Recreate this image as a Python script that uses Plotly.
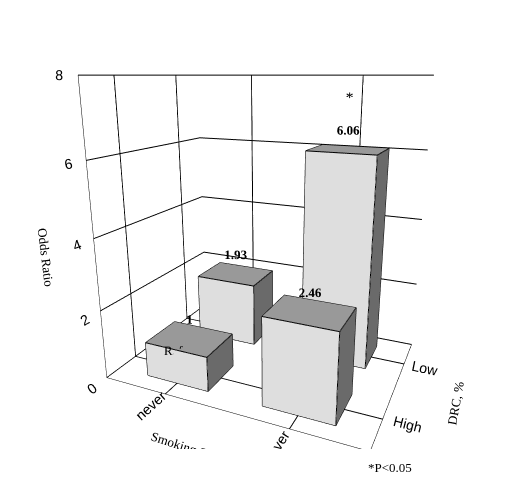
import plotly.graph_objects as go

smoking = ['never', 'ever']
drc = ['High', 'Low']
# odds ratios [smoking][drc]
odds = [[1, 1.93],
        [2.46, 6.06]]
labels = [['1', '1.93'], ['2.46', '6.06']]
z_ticks = [0, 2, 4, 6, 8]

w = 0.55  # bar width in x
d = 0.5   # bar depth in y

fig = go.Figure()

for xi, s in enumerate(smoking):
    for yi, g in enumerate(drc):
        h = odds[xi][yi]
        x0, x1 = xi - w / 2, xi + w / 2
        y0, y1 = yi - d / 2, yi + d / 2
        vx = [x0, x1, x1, x0, x0, x1, x1, x0]
        vy = [y0, y0, y1, y1, y0, y0, y1, y1]
        vz = [0, 0, 0, 0, h, h, h, h]
        # faces: bottom, top, front(y0), back(y1), left(x0), right(x1)
        I = [0, 0, 4, 4, 0, 0, 3, 3, 0, 0, 1, 1]
        J = [1, 2, 5, 6, 1, 5, 2, 6, 3, 7, 2, 6]
        K = [2, 3, 6, 7, 5, 4, 6, 7, 7, 4, 6, 5]
        cols = ['#888'] * 2 + ['#999'] * 2 + ['#dedede'] * 2 + ['#777'] * 2 + ['#777'] * 2 + ['#6a6a6a'] * 2
        fig.add_trace(go.Mesh3d(x=vx, y=vy, z=vz, i=I, j=J, k=K, facecolor=cols,
                                flatshading=True, lighting=dict(ambient=1, diffuse=0, specular=0),
                                showscale=False, hoverinfo='skip'))
        ex = [x0, x1, x1, x0, x0, None, x0, x1, x1, x0, x0, None, x0, x0, None, x1, x1, None, x1, x1, None, x0, x0]
        ey = [y0, y0, y1, y1, y0, None, y0, y0, y1, y1, y0, None, y0, y0, None, y0, y0, None, y1, y1, None, y1, y1]
        ez = [0, 0, 0, 0, 0, None, h, h, h, h, h, None, 0, h, None, 0, h, None, 0, h, None, 0, h]
        fig.add_trace(go.Scatter3d(x=ex, y=ey, z=ez, mode='lines', line=dict(color='black', width=2),
                                   showlegend=False, hoverinfo='skip'))
        fig.add_trace(go.Scatter3d(x=[xi], y=[yi], z=[h + 0.05], mode='text', text=['<b>' + labels[xi][yi] + '</b>'],
                                   textfont=dict(family='Liberation Serif', size=13, color='black'),
                                   showlegend=False, hoverinfo='skip'))

fig.add_trace(go.Scatter3d(x=[0], y=[-d / 2 - 0.03], z=[0.5], mode='text', text=['Ref.'],
                           textfont=dict(family='Liberation Serif', size=13), showlegend=False))
fig.add_trace(go.Scatter3d(x=[1], y=[1], z=[7.0], mode='text', text=['*'],
                           textfont=dict(family='Liberation Serif', size=16), showlegend=False))

axis_common = dict(showbackground=True, backgroundcolor='white', gridcolor='black',
                   linecolor='black', showline=True, zeroline=False,
                   tickfont=dict(family='Liberation Sans', size=13, color='black'))

fig.update_layout(
    width=520, height=479,
    margin=dict(l=0, r=0, t=0, b=0),
    paper_bgcolor='white',
    showlegend=False,
    font=dict(family='Liberation Serif', color='black'),
    scene=dict(
        domain=dict(x=[0, 1], y=[0.08, 1]),
        xaxis=dict(axis_common, tickvals=[0, 1], ticktext=smoking, range=[-0.55, 1.55],
                   title=dict(text='Smoking Status', font=dict(family='Liberation Serif', size=13))),
        yaxis=dict(axis_common, tickvals=[0, 1], ticktext=drc, range=[-0.45, 1.45],
                   title=dict(text='DRC, %', font=dict(family='Liberation Serif', size=13))),
        zaxis=dict(axis_common, tickvals=z_ticks, range=[0, 8],
                   title=dict(text='Odds Ratio', font=dict(family='Liberation Serif', size=13))),
        aspectmode='manual', aspectratio=dict(x=1.1, y=0.8, z=1.2),
        camera=dict(eye=dict(x=0.85, y=-1.9, z=0.6), projection=dict(type='perspective')),
    ),
    annotations=[dict(text='*P<0.05', x=0.78, y=0.02, xref='paper', yref='paper', showarrow=False,
                      font=dict(family='Liberation Serif', size=13))],
)

fig.write_html("out.html")
